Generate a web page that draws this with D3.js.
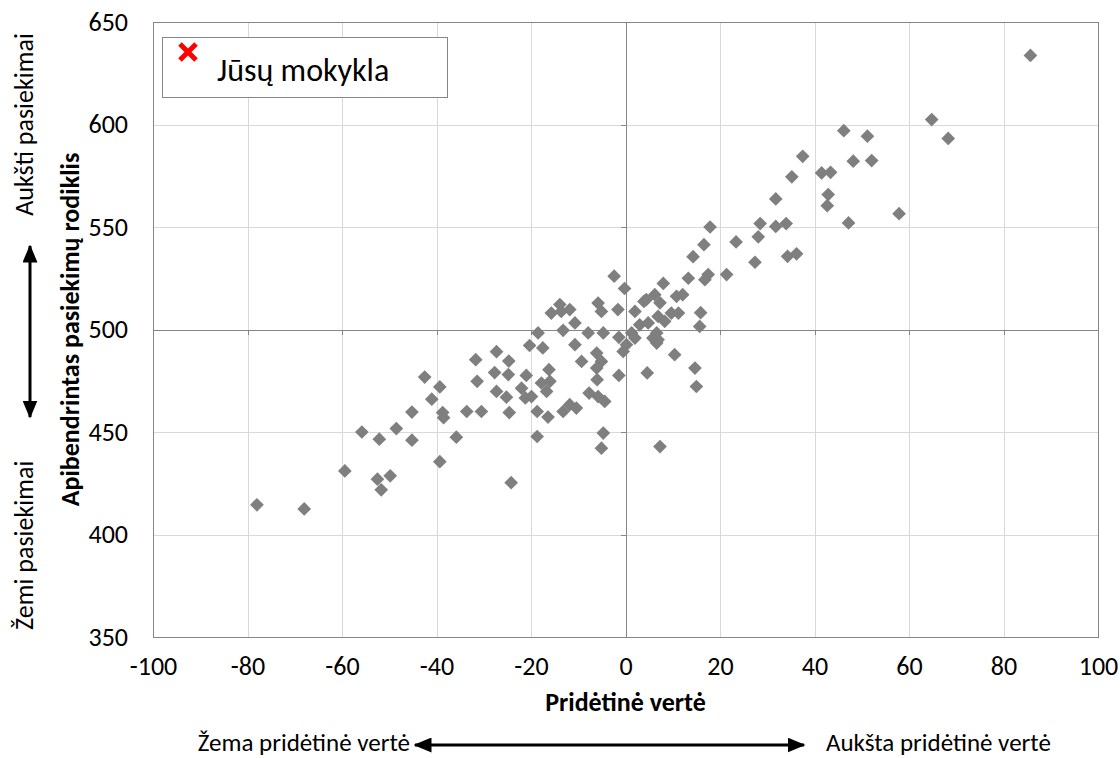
<!DOCTYPE html>
<html>
<head>
<meta charset="utf-8">
<script src="https://cdn.jsdelivr.net/npm/d3@7"></script>
<style>
  body { margin: 0; background: #fff; }
  svg text { font-family: Carlito, Lato, "Open Sans", sans-serif; fill: #000; }
</style>
</head>
<body>
<svg id="chart" width="1120" height="758"></svg>
<script>
// pridėtinė vertė (x) ir apibendrintas pasiekimų rodiklis (y)
const addedValue = [
  -78, -68, -59.4, -55.8, -52.1, -48.5, -45.2, -45.2, -42.5, -41, -39.3, -38.7, -38.5, -39.3, -35.8,
  -52.5, -49.8, -51.7, -33.6, -31.7, -31.4, -30.5, -27.3, -27.7, -27.3, -25.2, -24.7, -24.8, -24.6, -24.2,
  -21, -22, -21.2, -19.9, -20.3, -18.5, -17.5, -16.2, -17.8, -16, -16.7, -18.7, -16.4, -18.7,
  -13.9, -15.7, -13.6, -11.8, -10.7, -13.2, -13.2, -11.8, -10.4, -10.7, -9.3, -7.9, -7.7,
  -6.1, -5.1, -6.1, -6, -5.8, -4.4, -5.8, -5.1, -4.7, -4.7, -5.1,
  -2.4, -0.2, -1.6, -1.4, -0.5, -1.4, 0.2, 1.3, 2, 2, 3.9, 3, 4.8, 4.4, 6.2, 7.3, 10.8, 9.7, 11.2,
  6.9, 8.3, 6.6, 6.9, 5.8, 6.6, 4.6, 8, 7.3, 10.4, 12.1, 13.3, 14.3, 15.7, 15.9, 14.7, 15,
  16.8, 17.5, 16.6, 17.9, 21.4, 23.4, 27.4, 28.1, 28.5, 31.8, 34, 31.8, 34.3, 36.2,
  35.2, 37.5, 41.5, 43.4, 42.9, 42.7, 46.2, 47.2, 48.2, 51.2, 52.1, 57.9, 64.8, 68.3, 85.7
];
const achievement = [
  414.5, 412.5, 431, 450, 446.5, 451.7, 459.7, 446, 476.8, 466, 472, 459.5, 457, 435.5, 447.5,
  427, 428.6, 421.8, 460, 485.3, 474.7, 460, 489.2, 479, 469.8, 467, 484.6, 478, 459.5, 425.3,
  477.6, 471.4, 466.6, 467.3, 492.2, 498.3, 491, 480.4, 473.9, 474.7, 469.8, 460, 457.3, 447.8,
  512.2, 508, 508.8, 509.7, 503.2, 499.6, 460, 463.3, 461.7, 492.6, 484.4, 498.3, 469,
  488.5, 484.4, 481.2, 475.5, 467.3, 464.9, 512.9, 508.8, 498.3, 449.5, 442.1,
  526, 520, 509.7, 496.2, 489.3, 477.6, 492.6, 498.3, 495.8, 508.8, 513.7, 502.3, 503.2, 514.6, 517, 513, 516.2, 508, 508,
  506.4, 504, 498.3, 495, 495.8, 493.4, 478.8, 522.5, 442.9, 487.7, 517, 525, 535.5, 501.5, 508.2, 481.2, 472.2,
  524.3, 526.8, 541.4, 550, 526.8, 542.7, 532.8, 545.2, 551.7, 550.3, 551.7, 563.7, 535.7, 536.9,
  574.5, 584.5, 576.4, 576.7, 565.8, 560.4, 597, 552, 582.1, 594.3, 582.4, 556.5, 602.4, 593.2, 633.7
];
const xTicks = [-100, -80, -60, -40, -20, 0, 20, 40, 60, 80, 100];
const yTicks = [350, 400, 450, 500, 550, 600, 650];
const legendLabel = "Jūsų mokykla";

const margin = { left: 153, right: 22, top: 22, bottom: 121 };
const W = 1120, H = 758;
const w = W - margin.left - margin.right;
const h = H - margin.top - margin.bottom;

const svg = d3.select('#chart');
const g = svg.append('g').attr('transform', `translate(${margin.left},${margin.top})`);

const x = d3.scaleLinear().domain([-100, 100]).range([0, w]);
const y = d3.scaleLinear().domain([350, 650]).range([h, 0]);

// tinklelis
g.append('g')
  .call(d3.axisBottom(x).tickValues(xTicks).tickSize(h).tickFormat(''))
  .call(a => a.select('.domain').remove())
  .call(a => a.selectAll('line').attr('stroke', '#d9d9d9').attr('shape-rendering', 'crispEdges'));
g.append('g')
  .call(d3.axisLeft(y).tickValues(yTicks).tickSize(-w).tickFormat(''))
  .call(a => a.select('.domain').remove())
  .call(a => a.selectAll('line').attr('stroke', '#d9d9d9').attr('shape-rendering', 'crispEdges'));

// ašys, kertančios per (0, 500)
g.append('g')
  .attr('transform', `translate(0,${y(500)})`)
  .call(d3.axisBottom(x).tickValues(xTicks).tickSize(5).tickSizeOuter(0).tickFormat(''))
  .call(a => a.selectAll('line, path').attr('stroke', '#868686').attr('shape-rendering', 'crispEdges'));
g.append('g')
  .attr('transform', `translate(${x(0)},0)`)
  .call(d3.axisLeft(y).tickValues(yTicks).tickSize(5).tickSizeOuter(0).tickFormat(''))
  .call(a => a.selectAll('line, path').attr('stroke', '#868686').attr('shape-rendering', 'crispEdges'));

// rėmelis
g.append('rect')
  .attr('width', w).attr('height', h)
  .attr('fill', 'none').attr('stroke', '#868686')
  .attr('shape-rendering', 'crispEdges');

// žymų užrašai kraštuose
g.append('g')
  .attr('transform', `translate(0,${h})`)
  .call(d3.axisBottom(x).tickValues(xTicks).tickSize(0).tickPadding(20).tickFormat(d => String(d)))
  .call(a => a.select('.domain').remove())
  .call(a => a.selectAll('text').style('font-size', '26px'));
g.append('g')
  .call(d3.axisLeft(y).tickValues(yTicks).tickSize(0).tickPadding(25).tickFormat(d => String(d)))
  .call(a => a.select('.domain').remove())
  .call(a => a.selectAll('text').style('font-size', '26px'));

// taškai
const points = addedValue.map((v, i) => ({ x: v, y: achievement[i] }));
g.append('g').selectAll('path')
  .data(points)
  .enter()
  .append('path')
  .attr('transform', d => `translate(${x(d.x)},${y(d.y)})`)
  .attr('d', d3.symbol(d3.symbolDiamond2, 120))
  .attr('fill', '#7f7f7f');

// legenda
const leg = g.append('g').attr('transform', 'translate(9,15)');
leg.append('rect')
  .attr('width', 285).attr('height', 60)
  .attr('fill', '#fff').attr('stroke', '#868686')
  .attr('shape-rendering', 'crispEdges');
leg.append('path')
  .attr('transform', 'translate(26,15)')
  .attr('d', d3.symbol(d3.symbolX, 170))
  .attr('stroke', '#ff0000').attr('stroke-width', 5).attr('fill', 'none');
leg.append('text')
  .attr('x', 55).attr('y', 44)
  .style('font-size', '32px')
  .text(legendLabel);

// ašių pavadinimai
svg.append('text')
  .attr('x', margin.left + x(0)).attr('y', 711)
  .attr('text-anchor', 'middle')
  .style('font-size', '26px').style('font-weight', 'bold')
  .text('Pridėtinė vertė');
svg.append('text')
  .attr('transform', `translate(79,${margin.top + y(500)}) rotate(-90)`)
  .attr('text-anchor', 'middle')
  .style('font-size', '26px').style('font-weight', 'bold')
  .text('Apibendrintas pasiekimų rodiklis');

// rodyklės
const defs = svg.append('defs');
defs.append('marker')
  .attr('id', 'arrow')
  .attr('viewBox', '0 0 12 10')
  .attr('refX', 11).attr('refY', 5)
  .attr('markerWidth', 6).attr('markerHeight', 5)
  .attr('markerUnits', 'strokeWidth')
  .attr('orient', 'auto-start-reverse')
  .append('path')
  .attr('d', 'M0,0L12,5L0,10z')
  .attr('fill', '#000');

svg.append('line')
  .attr('x1', 415).attr('x2', 804).attr('y1', 745).attr('y2', 745)
  .attr('stroke', '#000').attr('stroke-width', 3)
  .attr('marker-start', 'url(#arrow)').attr('marker-end', 'url(#arrow)');
svg.append('text')
  .attr('x', 410).attr('y', 751).attr('text-anchor', 'end')
  .style('font-size', '25px')
  .text('Žema pridėtinė vertė');
svg.append('text')
  .attr('x', 826).attr('y', 751)
  .style('font-size', '25px')
  .text('Aukšta pridėtinė vertė');

svg.append('line')
  .attr('x1', 30).attr('x2', 30).attr('y1', 246).attr('y2', 417)
  .attr('stroke', '#000').attr('stroke-width', 3)
  .attr('marker-start', 'url(#arrow)').attr('marker-end', 'url(#arrow)');
svg.append('text')
  .attr('transform', 'translate(33,33) rotate(-90)')
  .attr('text-anchor', 'end')
  .style('font-size', '26px')
  .text('Aukšti pasiekimai');
svg.append('text')
  .attr('transform', 'translate(33,630) rotate(-90)')
  .attr('text-anchor', 'start')
  .style('font-size', '26px')
  .text('Žemi pasiekimai');
</script>
</body>
</html>
